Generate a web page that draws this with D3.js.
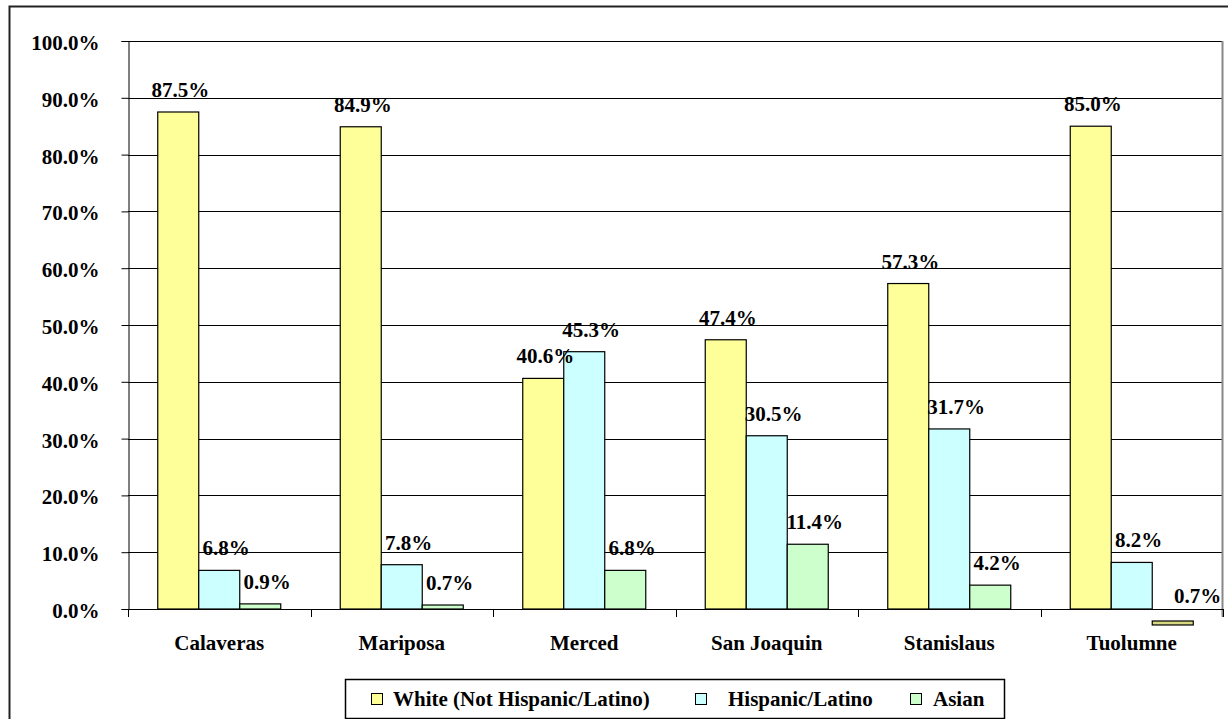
<!DOCTYPE html>
<html>
<head>
<meta charset="utf-8">
<script src="https://cdn.jsdelivr.net/npm/d3@7"></script>
<style>
  body { margin: 0; background: #fff; }
  svg text { font-family: "Liberation Serif", Tinos, "Times New Roman", serif; font-weight: bold; fill: #000; }
</style>
</head>
<body>
<div id="chart"></div>
<script>
// data
const counties = ["Calaveras", "Mariposa", "Merced", "San Joaquin", "Stanislaus", "Tuolumne"];
const seriesNames = ["White (Not Hispanic/Latino)", "Hispanic/Latino", "Asian"];
const white = [87.5, 84.9, 40.6, 47.4, 57.3, 85.0];
const hispanic = [6.8, 7.8, 45.3, 30.5, 31.7, 8.2];
const asian = [0.9, 0.7, 6.8, 11.4, 4.2, 0.7];
const yTicks = [0, 10, 20, 30, 40, 50, 60, 70, 80, 90, 100];

const width = 1228, height = 719;
const margin = { left: 128, top: 41 };
const plotRight = 1223, plotBottom = 609;
const colors = ["#ffff99", "#ccffff", "#ccffcc"];
const serif = '"Liberation Serif", Tinos, "Times New Roman", serif';
const fs = "21px";

const svg = d3.select("#chart").append("svg")
  .attr("width", width)
  .attr("height", height);

// outer chart border (runs off the right/bottom edge)
svg.append("rect")
  .attr("x", 9.5).attr("y", 6.5)
  .attr("width", 1240).attr("height", 730)
  .attr("fill", "none").attr("stroke", "#222").attr("stroke-width", 2);

const x0 = d3.scaleBand()
  .domain(counties)
  .range([margin.left, plotRight]);

const x1 = d3.scaleBand()
  .domain(d3.range(3))
  .range([0, x0.bandwidth() * 0.674]);

const y = d3.scaleLinear().domain([0, 100]).range([plotBottom, margin.top]);

const g = svg.append("g");

// gridlines
g.selectAll(".grid")
  .data(yTicks.filter(d => d > 0))
  .enter().append("line")
  .attr("x1", margin.left).attr("x2", plotRight)
  .attr("y1", d => Math.round(y(d)) + 0.5).attr("y2", d => Math.round(y(d)) + 0.5)
  .attr("stroke", "#000").attr("stroke-width", 1);

// right border of plot area
g.append("line")
  .attr("x1", plotRight - 0.5).attr("x2", plotRight - 0.5)
  .attr("y1", y(100)).attr("y2", plotBottom + 8)
  .attr("stroke", "#888").attr("stroke-width", 2);

// y axis
const yAxis = g.append("g")
  .attr("transform", `translate(${margin.left + 0.5},0)`)
  .call(d3.axisLeft(y).tickValues(yTicks).tickSize(7).tickFormat(d => d.toFixed(1) + "%"));
yAxis.attr("font-family", null).attr("font-size", null);
yAxis.select(".domain").attr("stroke", "#000");
yAxis.selectAll(".tick line").attr("stroke", "#000");
yAxis.selectAll(".tick text")
  .attr("x", -29)
  .attr("dy", "0.4em")
  .style("font-family", serif)
  .style("font-size", fs).style("font-weight", "bold").attr("fill", "#000");

// x axis with ticks at category boundaries
g.append("line")
  .attr("x1", margin.left).attr("x2", plotRight)
  .attr("y1", plotBottom + 0.5).attr("y2", plotBottom + 0.5)
  .attr("stroke", "#000");
g.selectAll(".xtick")
  .data(d3.range(counties.length + 1))
  .enter().append("line")
  .attr("x1", i => Math.round(margin.left + i * x0.bandwidth()) + 0.5)
  .attr("x2", i => Math.round(margin.left + i * x0.bandwidth()) + 0.5)
  .attr("y1", plotBottom).attr("y2", plotBottom + 8)
  .attr("stroke", "#000");

g.selectAll(".xlabel")
  .data(counties)
  .enter().append("text")
  .attr("x", d => x0(d) + x0.bandwidth() / 2)
  .attr("y", 650)
  .attr("text-anchor", "middle")
  .style("font-family", serif)
  .style("font-size", fs)
  .text(d => d);

// bars
const rows = counties.map((c, i) => ({ county: c, values: [white[i], hispanic[i], asian[i]] }));
const groupOff = x0.bandwidth() * (1 - 0.674) / 2;

const groups = g.selectAll(".grp")
  .data(rows)
  .enter().append("g")
  .attr("transform", d => `translate(${x0(d.county) + groupOff},0)`);

// the Tuolumne Asian bar is drawn below the axis in the original
const isDropped = d => d.county === "Tuolumne" && d.i === 2;
const labelDx = [2, 7, 7];
const cells = groups.selectAll("rect")
  .data(d => d.values.map((v, i) => ({ county: d.county, v, i })))
  .enter();

cells.append("rect")
  .attr("x", d => x1(d.i))
  .attr("y", d => isDropped(d) ? plotBottom + 12 : y(d.v))
  .attr("width", x1.bandwidth())
  .attr("height", d => y(0) - y(d.v))
  .attr("fill", d => isDropped(d) ? "#d8d880" : colors[d.i])
  .attr("stroke", "#000").attr("stroke-width", 1.2);

cells.append("text")
  .attr("x", d => x1(d.i) + x1.bandwidth() / 2 + (isDropped(d) ? 25 : labelDx[d.i]))
  .attr("y", d => y(d.v) - (isDropped(d) ? 2 : 15))
  .attr("text-anchor", "middle")
  .style("font-family", serif)
  .style("font-size", fs)
  .text(d => d.v.toFixed(1) + "%");

// legend
const lg = svg.append("g");
lg.append("rect")
  .attr("x", 345.5).attr("y", 679.5)
  .attr("width", 659).attr("height", 39)
  .attr("fill", "#fff").attr("stroke", "#000").attr("stroke-width", 1.5);
const legendX = [371, 695, 910];
const legendTextX = [393, 728, 933];
seriesNames.forEach((name, i) => {
  lg.append("rect")
    .attr("x", legendX[i] + 0.5).attr("y", 693.5)
    .attr("width", 11).attr("height", 11)
    .attr("fill", colors[i]).attr("stroke", "#000");
  lg.append("text")
    .attr("x", legendTextX[i]).attr("y", 706)
    .style("font-family", serif)
    .style("font-size", fs)
    .text(name);
});
</script>
</body>
</html>
